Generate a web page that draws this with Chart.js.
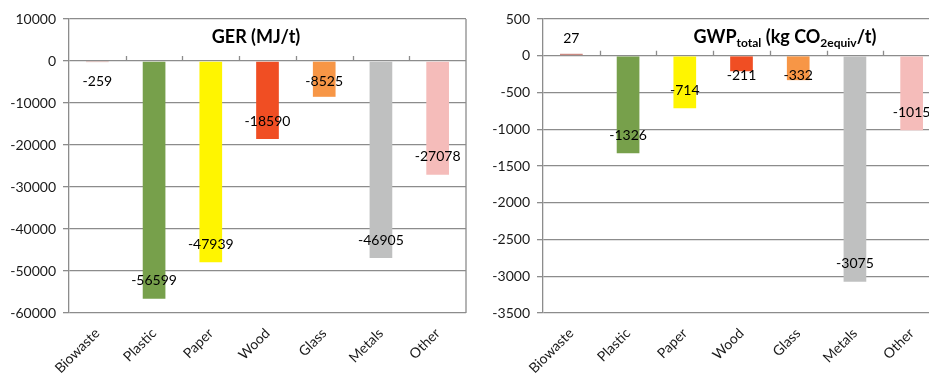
<!DOCTYPE html>
<html>
<head>
<meta charset="utf-8">
<script src="https://cdn.jsdelivr.net/npm/chart.js@4/dist/chart.umd.min.js"></script>
<style>
  html, body { margin: 0; padding: 0; background: #fff; overflow: hidden; }
  body { width: 929px; height: 374px; position: relative; }
  .panel { position: absolute; top: 0; }
  #gerBox { left: 0; }
  #gwpBox { left: 474px; }
</style>
</head>
<body>
<div class="panel" id="gerBox"><canvas id="ger" width="470" height="374"></canvas></div>
<div class="panel" id="gwpBox"><canvas id="gwp" width="470" height="374"></canvas></div>
<script>
// Waste fractions shown on both panels
const categories = ['Biowaste', 'Plastic', 'Paper', 'Wood', 'Glass', 'Metals', 'Other'];
const barColors = ['#cc8a82', '#77a04b', '#fff500', '#f04e23', '#f79646', '#bfc0c0', '#f5bcba'];

// Gross energy requirement, MJ per tonne
const gerValues = [-259, -56599, -47939, -18590, -8525, -46905, -27078];
// Total global warming potential, kg CO2 equivalent per tonne
const gwpValues = [27, -1326, -714, -211, -332, -3075, -1015];

// Axis ranges and tick steps
const gerAxis = { min: -60000, max: 10000, step: 10000 };
const gwpAxis = { min: -3500, max: 500, step: 500 };

const FONT = 'Lato, "Liberation Sans", sans-serif';
const GRID = '#8c8c8c';

// Frame, category ticks on the zero line, value labels and the title
const decorPlugin = {
  id: 'decor',
  afterDatasetsDraw(chart, args, opts) {
    const ctx = chart.ctx;
    const area = chart.chartArea;
    const x = chart.scales.x;
    const y = chart.scales.y;
    const zeroY = y.getPixelForValue(0);

    ctx.save();
    // right edge of the plot frame
    ctx.strokeStyle = GRID;
    ctx.lineWidth = 1.3;
    ctx.beginPath();
    ctx.moveTo(area.right, area.top);
    ctx.lineTo(area.right, area.bottom);
    ctx.stroke();

    // category separators on the zero line
    ctx.beginPath();
    for (let i = 0; i < categories.length - 1; i++) {
      const bx = Math.round((x.getPixelForValue(i) + x.getPixelForValue(i + 1)) / 2) + 0.5;
      ctx.moveTo(bx, zeroY - 5);
      ctx.lineTo(bx, zeroY);
    }
    ctx.stroke();

    // value labels near the bar ends
    const meta = chart.getDatasetMeta(0);
    const values = chart.data.datasets[0].data;
    ctx.fillStyle = '#000';
    ctx.font = '14px ' + FONT;
    ctx.textAlign = 'center';
    ctx.textBaseline = 'middle';
    meta.data.forEach((bar, i) => {
      const v = values[i];
      let ly;
      if (v >= 0) {
        ly = zeroY - 17;
      } else {
        ly = Math.max(zeroY + 20, bar.y - 18);
      }
      ctx.fillText(String(v), bar.x, ly);
    });

    // title, possibly with subscripts
    const parts = opts.parts || [];
    const mainFont = 'bold 18px ' + FONT;
    const subFont = 'bold 12px ' + FONT;
    let total = 0;
    parts.forEach(p => {
      ctx.font = p.sub ? subFont : mainFont;
      total += ctx.measureText(p.text).width;
    });
    let tx = opts.centerX - total / 2;
    ctx.textAlign = 'left';
    ctx.textBaseline = 'alphabetic';
    ctx.fillStyle = '#000';
    parts.forEach(p => {
      ctx.font = p.sub ? subFont : mainFont;
      ctx.fillText(p.text, tx, opts.baseline + (p.sub ? 4 : 0));
      tx += ctx.measureText(p.text).width;
    });
    ctx.restore();
  }
};

function makeChart(canvasId, values, axis, titleParts, titleCenterX) {
  return new Chart(document.getElementById(canvasId), {
    type: 'bar',
    data: {
      labels: categories,
      datasets: [{
        data: values,
        backgroundColor: barColors,
        borderWidth: 0,
        categoryPercentage: 0.8,
        barPercentage: 0.5
      }]
    },
    options: {
      responsive: false,
      animation: false,
      devicePixelRatio: 1,
      layout: { padding: { top: 19, right: 4, left: 0, bottom: 0 } },
      plugins: {
        legend: { display: false },
        tooltip: { enabled: false },
        title: { display: false },
        decor: { parts: titleParts, centerX: titleCenterX, baseline: 43 }
      },
      scales: {
        x: {
          grid: { display: false, drawTicks: false },
          border: { display: false },
          ticks: {
            color: '#1a1a1a',
            font: { family: FONT, size: 14 },
            maxRotation: 45,
            minRotation: 45,
            padding: 12,
            autoSkip: false
          },
          afterFit(scale) { scale.height = 61; }
        },
        y: {
          min: axis.min,
          max: axis.max,
          grid: { color: GRID, lineWidth: 1.3, tickLength: 6, tickColor: GRID },
          border: { color: GRID, width: 1.3 },
          ticks: {
            stepSize: axis.step,
            color: '#1a1a1a',
            font: { family: FONT, size: 14 },
            padding: 7,
            callback: (v) => String(v)
          },
          afterFit(scale) { scale.width = 69; }
        }
      }
    },
    plugins: [decorPlugin]
  });
}

makeChart('ger', gerValues, gerAxis, [{ text: 'GER (MJ/t)' }], 256);
makeChart('gwp', gwpValues, gwpAxis, [
  { text: 'GWP' }, { text: 'total', sub: true },
  { text: ' (kg CO' }, { text: '2equiv', sub: true }, { text: '/t)' }
], 311);
</script>
</body>
</html>
